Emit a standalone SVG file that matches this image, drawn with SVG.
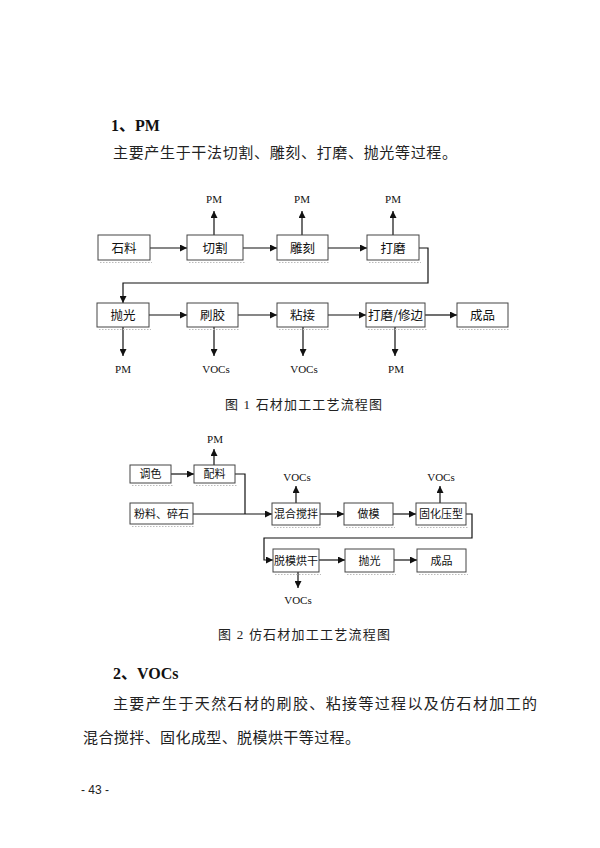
<svg xmlns="http://www.w3.org/2000/svg" width="600" height="848" viewBox="0 0 600 848">
<defs>
<style>
.bg{fill:#fff}
.box{fill:#fff;stroke:#444;stroke-width:1}
.sh{fill:none;stroke:#bbb;stroke-width:1;stroke-dasharray:1.5 1.5}
.bt{font-family:"Noto Sans CJK SC",sans-serif;font-size:12.5px;fill:#111;text-anchor:middle}
.bt2{font-family:"Noto Sans CJK SC",sans-serif;font-size:11px;fill:#111;text-anchor:middle}
.lb{font-family:"Liberation Serif","Noto Sans CJK SC",serif;font-size:11px;fill:#111;text-anchor:middle}
.ln{fill:none;stroke:#111;stroke-width:1.2}
.body{font-family:"Liberation Serif","Noto Sans CJK SC",serif;font-size:15px;fill:#222}
.head{font-family:"Liberation Serif","Noto Sans CJK SC",serif;font-size:16px;font-weight:bold;fill:#111}
.cap{font-family:"Liberation Serif","Noto Sans CJK SC",serif;font-size:13px;fill:#222}
</style>
<marker id="ah" viewBox="0 0 8 8" refX="8" refY="4" markerWidth="7" markerHeight="7" markerUnits="userSpaceOnUse" orient="auto">
<path d="M0,0 L8,4 L0,8 z" fill="#111"/>
</marker>
</defs>
<rect class="bg" x="0" y="0" width="600" height="848"/>

<g id="text">
<text class="head" x="111" y="131">1、PM</text>
<text class="body" x="113" y="158" textLength="344" lengthAdjust="spacing">主要产生于干法切割、雕刻、打磨、抛光等过程。</text>
<text class="cap" x="225" y="409" textLength="157" lengthAdjust="spacing">图 1  石材加工工艺流程图</text>
<text class="cap" x="218" y="639" textLength="172" lengthAdjust="spacing">图 2  仿石材加工工艺流程图</text>
<text class="head" x="113" y="679">2、VOCs</text>
<text class="body" x="113" y="709" textLength="424" lengthAdjust="spacing">主要产生于天然石材的刷胶、粘接等过程以及仿石材加工的</text>
<text class="body" x="83" y="743" textLength="277" lengthAdjust="spacing">混合搅拌、固化成型、脱模烘干等过程。</text>
<text x="81" y="794" style="font-family:'Liberation Sans',sans-serif;font-size:12px;fill:#222">- 43 -</text>
</g>

<g id="connectors">
<line class="ln" x1="150" y1="248" x2="187" y2="248" marker-end="url(#ah)"/>
<line class="ln" x1="243" y1="248" x2="277" y2="248" marker-end="url(#ah)"/>
<line class="ln" x1="328" y1="248" x2="367" y2="248" marker-end="url(#ah)"/>
<polyline class="ln" points="419,248 428,248 428,283 123,283 123,303" marker-end="url(#ah)"/>
<line class="ln" x1="214" y1="235" x2="214" y2="211" marker-end="url(#ah)"/>
<line class="ln" x1="302" y1="235" x2="302" y2="211" marker-end="url(#ah)"/>
<line class="ln" x1="393" y1="235" x2="393" y2="211" marker-end="url(#ah)"/>
<line class="ln" x1="149" y1="315" x2="187" y2="315" marker-end="url(#ah)"/>
<line class="ln" x1="238" y1="315" x2="277" y2="315" marker-end="url(#ah)"/>
<line class="ln" x1="328" y1="315" x2="366" y2="315" marker-end="url(#ah)"/>
<line class="ln" x1="425" y1="315" x2="457" y2="315" marker-end="url(#ah)"/>
<line class="ln" x1="123" y1="327" x2="123" y2="356" marker-end="url(#ah)"/>
<line class="ln" x1="214" y1="327" x2="214" y2="356" marker-end="url(#ah)"/>
<line class="ln" x1="303" y1="327" x2="303" y2="356" marker-end="url(#ah)"/>
<line class="ln" x1="395" y1="327" x2="395" y2="356" marker-end="url(#ah)"/>
<line class="ln" x1="171" y1="474" x2="194" y2="474" marker-end="url(#ah)"/>
<polyline class="ln" points="235,474 245,474 245,514"/>
<line class="ln" x1="193" y1="514" x2="272" y2="514" marker-end="url(#ah)"/>
<line class="ln" x1="214" y1="465" x2="214" y2="449" marker-end="url(#ah)"/>
<line class="ln" x1="296" y1="503" x2="296" y2="486" marker-end="url(#ah)"/>
<line class="ln" x1="440" y1="503" x2="440" y2="486" marker-end="url(#ah)"/>
<line class="ln" x1="320" y1="514" x2="344" y2="514" marker-end="url(#ah)"/>
<line class="ln" x1="393" y1="514" x2="416" y2="514" marker-end="url(#ah)"/>
<polyline class="ln" points="466,514 472,514 472,538 264,538 264,560 273,560" marker-end="url(#ah)"/>
<line class="ln" x1="319" y1="560" x2="345" y2="560" marker-end="url(#ah)"/>
<line class="ln" x1="394" y1="560" x2="417" y2="560" marker-end="url(#ah)"/>
<line class="ln" x1="298" y1="572" x2="298" y2="588" marker-end="url(#ah)"/>
</g>

<g id="labels">
<text class="lb" x="214" y="203">PM</text>
<text class="lb" x="302" y="203">PM</text>
<text class="lb" x="393" y="203">PM</text>
<text class="lb" x="123" y="373">PM</text>
<text class="lb" x="216" y="373">VOCs</text>
<text class="lb" x="304" y="373">VOCs</text>
<text class="lb" x="396" y="373">PM</text>
<text class="lb" x="215" y="443">PM</text>
<text class="lb" x="297" y="481">VOCs</text>
<text class="lb" x="441" y="481">VOCs</text>
<text class="lb" x="298" y="604">VOCs</text>
</g>

<g id="n-shiliao"><rect class="box" x="98" y="235" width="52" height="25"/><line class="sh" x1="100" y1="262.5" x2="152" y2="262.5"/><text class="bt" x="124" y="252.5">石料</text></g>
<g id="n-qiege"><rect class="box" x="187" y="235" width="56" height="25"/><line class="sh" x1="189" y1="262.5" x2="245" y2="262.5"/><text class="bt" x="215" y="252.5">切割</text></g>
<g id="n-diaoke"><rect class="box" x="277" y="235" width="51" height="25"/><line class="sh" x1="279" y1="262.5" x2="330" y2="262.5"/><text class="bt" x="302.5" y="252.5">雕刻</text></g>
<g id="n-damo"><rect class="box" x="367" y="235" width="52" height="25"/><line class="sh" x1="369" y1="262.5" x2="421" y2="262.5"/><text class="bt" x="393" y="252.5">打磨</text></g>

<g id="n-paoguang"><rect class="box" x="97" y="303" width="52" height="24"/><line class="sh" x1="99" y1="329.5" x2="151" y2="329.5"/><text class="bt" x="123" y="319.5">抛光</text></g>
<g id="n-shuajiao"><rect class="box" x="187" y="303" width="51" height="24"/><line class="sh" x1="189" y1="329.5" x2="240" y2="329.5"/><text class="bt" x="212.5" y="319.5">刷胶</text></g>
<g id="n-zhanjie"><rect class="box" x="277" y="303" width="51" height="24"/><line class="sh" x1="279" y1="329.5" x2="330" y2="329.5"/><text class="bt" x="302.5" y="319.5">粘接</text></g>
<g id="n-damoxiubian"><rect class="box" x="366" y="303" width="59" height="24"/><line class="sh" x1="368" y1="329.5" x2="427" y2="329.5"/><text class="bt" x="395.5" y="319.5">打磨/修边</text></g>
<g id="n-chengpin1"><rect class="box" x="457" y="303" width="51" height="24"/><line class="sh" x1="459" y1="329.5" x2="510" y2="329.5"/><text class="bt" x="482.5" y="319.5">成品</text></g>

<g id="n-tiaose"><rect class="box" x="130" y="465" width="41" height="18"/><line class="sh" x1="132" y1="485.5" x2="173" y2="485.5"/><text class="bt2" x="150.5" y="478">调色</text></g>
<g id="n-peiliao"><rect class="box" x="194" y="465" width="41" height="18"/><line class="sh" x1="196" y1="485.5" x2="237" y2="485.5"/><text class="bt2" x="214.5" y="478">配料</text></g>
<g id="n-fenliao"><rect class="box" x="130" y="503" width="63" height="21"/><line class="sh" x1="132" y1="526.5" x2="195" y2="526.5"/><text class="bt2" x="161.5" y="517.5">粉料、碎石</text></g>
<g id="n-hunhe"><rect class="box" x="272" y="503" width="48" height="22"/><line class="sh" x1="274" y1="527.5" x2="322" y2="527.5"/><text class="bt2" x="296" y="518">混合搅拌</text></g>
<g id="n-zuomo"><rect class="box" x="344" y="503" width="49" height="22"/><line class="sh" x1="346" y1="527.5" x2="395" y2="527.5"/><text class="bt2" x="368.5" y="518">做模</text></g>
<g id="n-guhua"><rect class="box" x="416" y="503" width="50" height="22"/><line class="sh" x1="418" y1="527.5" x2="468" y2="527.5"/><text class="bt2" x="441" y="518">固化压型</text></g>
<g id="n-tuomo"><rect class="box" x="273" y="549" width="46" height="23"/><line class="sh" x1="275" y1="574.5" x2="321" y2="574.5"/><text class="bt2" x="296" y="564.5">脱模烘干</text></g>
<g id="n-paoguang2"><rect class="box" x="345" y="549" width="49" height="23"/><line class="sh" x1="347" y1="574.5" x2="396" y2="574.5"/><text class="bt2" x="369.5" y="564.5">抛光</text></g>
<g id="n-chengpin2"><rect class="box" x="417" y="549" width="49" height="23"/><line class="sh" x1="419" y1="574.5" x2="468" y2="574.5"/><text class="bt2" x="441.5" y="564.5">成品</text></g>
</svg>
